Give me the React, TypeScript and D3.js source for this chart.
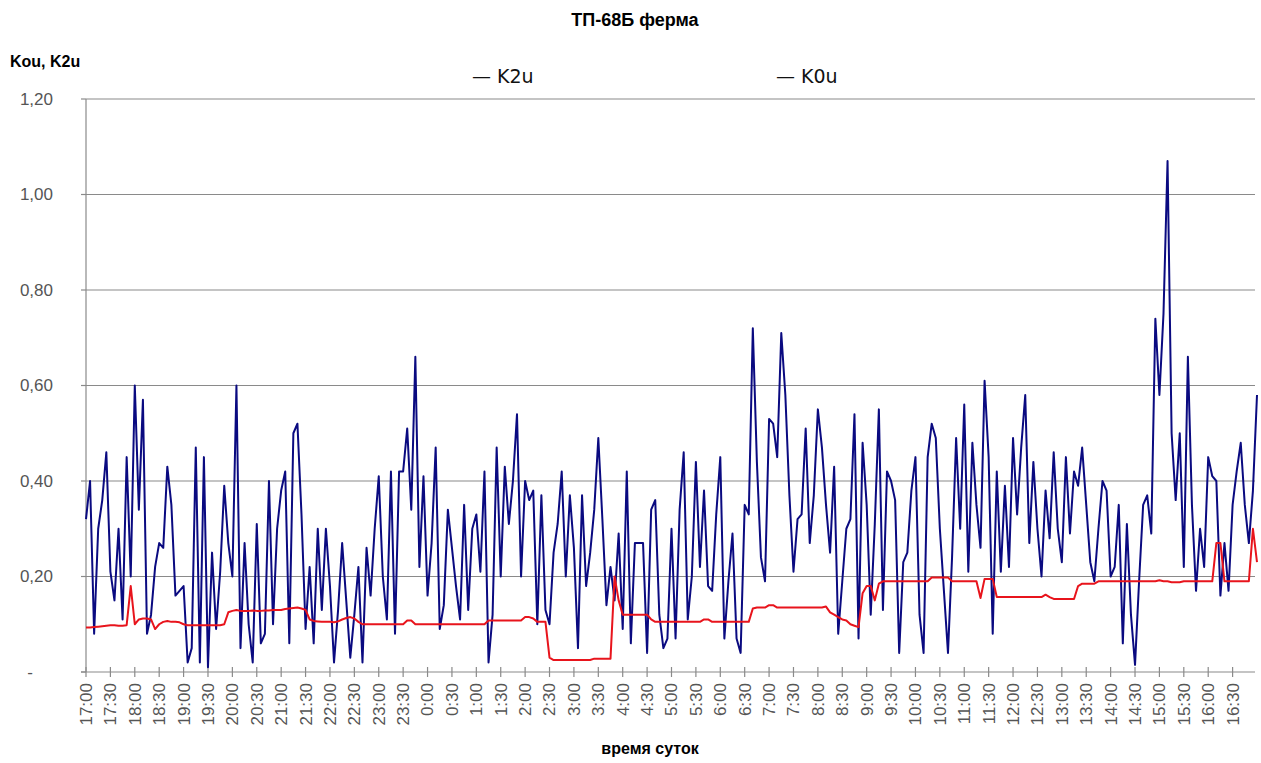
import React from "react";
import * as d3 from "d3";

const title = "ТП-68Б ферма";
const yAxisTitle = "Kou, K2u";
const xAxisTitle = "время суток";
const seriesNames = ["K2u", "K0u"];

const timeLabels = [
  "17:00","17:30","18:00","18:30","19:00","19:30","20:00","20:30","21:00","21:30","22:00","22:30",
  "23:00","23:30","0:00","0:30","1:00","1:30","2:00","2:30","3:00","3:30","4:00","4:30",
  "5:00","5:30","6:00","6:30","7:00","7:30","8:00","8:30","9:00","9:30","10:00","10:30",
  "11:00","11:30","12:00","12:30","13:00","13:30","14:00","14:30","15:00","15:30","16:00","16:30",
];

const yTicks = [0, 0.2, 0.4, 0.6, 0.8, 1.0, 1.2];

// K2u, 5-minute samples starting 17:00
const k2u = [
  0.32,0.40,0.08,0.30,0.36,0.46,0.21,0.15,0.30,0.11,0.45,0.20,
  0.60,0.34,0.57,0.08,0.12,0.22,0.27,0.26,0.43,0.35,0.16,0.17,
  0.18,0.02,0.05,0.47,0.02,0.45,0.01,0.25,0.09,0.21,0.39,0.27,
  0.20,0.60,0.05,0.27,0.10,0.02,0.31,0.06,0.08,0.40,0.10,0.30,
  0.38,0.42,0.06,0.50,0.52,0.33,0.09,0.22,0.06,0.30,0.13,0.30,
  0.18,0.02,0.13,0.27,0.15,0.03,0.12,0.22,0.02,0.26,0.16,0.30,
  0.41,0.20,0.11,0.42,0.08,0.42,0.42,0.51,0.34,0.66,0.22,0.41,
  0.16,0.27,0.47,0.09,0.14,0.34,0.26,0.18,0.11,0.35,0.13,0.30,
  0.33,0.21,0.42,0.02,0.12,0.47,0.20,0.43,0.31,0.40,0.54,0.20,
  0.40,0.36,0.38,0.10,0.37,0.13,0.10,0.25,0.31,0.42,0.20,0.37,
  0.26,0.05,0.37,0.18,0.25,0.34,0.49,0.32,0.14,0.22,0.15,0.29,
  0.09,0.42,0.06,0.27,0.27,0.27,0.04,0.34,0.36,0.12,0.05,0.07,
  0.30,0.07,0.34,0.46,0.11,0.20,0.44,0.22,0.38,0.18,0.17,0.33,
  0.45,0.07,0.19,0.29,0.07,0.04,0.35,0.33,0.72,0.44,0.24,0.19,
  0.53,0.52,0.45,0.71,0.58,0.37,0.21,0.32,0.33,0.51,0.27,0.37,
  0.55,0.47,0.35,0.25,0.43,0.08,0.19,0.30,0.32,0.54,0.07,0.48,
  0.35,0.12,0.31,0.55,0.13,0.42,0.40,0.36,0.04,0.23,0.25,0.38,
  0.45,0.12,0.04,0.45,0.52,0.49,0.30,0.17,0.04,0.24,0.49,0.30,
  0.56,0.21,0.48,0.35,0.26,0.61,0.45,0.08,0.42,0.21,0.39,0.22,
  0.49,0.33,0.47,0.58,0.27,0.44,0.30,0.20,0.38,0.28,0.46,0.30,
  0.23,0.45,0.29,0.42,0.39,0.47,0.35,0.23,0.19,0.30,0.40,0.38,
  0.20,0.22,0.35,0.06,0.31,0.12,0.015,0.19,0.35,0.37,0.29,0.74,
  0.58,0.75,1.07,0.50,0.36,0.50,0.22,0.66,0.35,0.17,0.30,0.22,
  0.45,0.41,0.40,0.16,0.27,0.17,0.35,0.42,0.48,0.35,0.27,0.38,
  0.58,
];

// K0u, 5-minute samples starting 17:00
const k0u = [
  0.093,0.093,0.094,0.095,0.096,0.097,0.098,0.098,0.097,0.097,0.098,0.18,
  0.10,0.11,0.112,0.112,0.11,0.09,0.10,0.105,0.107,0.105,0.105,0.104,
  0.100,0.098,0.098,0.098,0.098,0.098,0.098,0.098,0.098,0.098,0.10,0.125,
  0.128,0.13,0.128,0.128,0.128,0.129,0.128,0.128,0.129,0.129,0.13,0.13,
  0.13,0.132,0.133,0.134,0.135,0.133,0.13,0.11,0.107,0.106,0.105,0.105,
  0.105,0.104,0.106,0.11,0.113,0.115,0.112,0.105,0.10,0.10,0.10,0.10,
  0.10,0.10,0.10,0.10,0.10,0.10,0.10,0.108,0.108,0.10,0.10,0.10,
  0.10,0.10,0.10,0.10,0.10,0.10,0.10,0.10,0.10,0.10,0.10,0.10,
  0.10,0.10,0.10,0.108,0.108,0.108,0.108,0.108,0.108,0.108,0.108,0.108,
  0.115,0.115,0.112,0.105,0.105,0.105,0.03,0.025,0.025,0.025,0.025,0.025,
  0.025,0.025,0.025,0.025,0.025,0.028,0.028,0.028,0.028,0.028,0.20,0.15,
  0.12,0.12,0.12,0.12,0.12,0.12,0.12,0.11,0.105,0.105,0.105,0.105,
  0.105,0.105,0.105,0.105,0.105,0.105,0.105,0.105,0.11,0.11,0.105,0.105,
  0.105,0.105,0.105,0.105,0.105,0.105,0.105,0.105,0.133,0.135,0.135,0.135,
  0.14,0.14,0.135,0.135,0.135,0.135,0.135,0.135,0.135,0.135,0.135,0.135,
  0.135,0.135,0.137,0.125,0.12,0.115,0.11,0.108,0.10,0.097,0.094,0.165,
  0.18,0.18,0.15,0.185,0.19,0.19,0.19,0.19,0.19,0.19,0.19,0.19,
  0.19,0.19,0.19,0.19,0.198,0.198,0.198,0.198,0.198,0.19,0.19,0.19,
  0.19,0.19,0.19,0.19,0.155,0.195,0.195,0.195,0.157,0.157,0.157,0.157,
  0.157,0.157,0.157,0.157,0.157,0.157,0.157,0.157,0.162,0.157,0.153,0.153,
  0.153,0.153,0.153,0.153,0.18,0.185,0.185,0.185,0.185,0.19,0.19,0.19,
  0.19,0.19,0.19,0.19,0.19,0.19,0.19,0.19,0.19,0.19,0.19,0.19,
  0.192,0.19,0.19,0.188,0.188,0.188,0.19,0.19,0.19,0.19,0.19,0.19,
  0.19,0.19,0.27,0.27,0.19,0.19,0.19,0.19,0.19,0.19,0.19,0.30,
  0.23,
];

const W = 1261;
const H = 763;
const margin = { left: 86, right: 4, top: 99, bottom: 91 };

export default function App() {
  const x = d3.scaleLinear().domain([0, 288]).range([margin.left, W - margin.right]);
  const y = d3.scaleLinear().domain([0, 1.2]).range([H - margin.bottom, margin.top]);
  const line = d3
    .line<number>()
    .x((_, i) => x(i))
    .y((d) => y(d));
  const fmt = (v: number) => (v === 0 ? "-" : d3.format(".2f")(v).replace(".", ","));
  const font = "'Liberation Sans', Arial, sans-serif";
  const y0 = y(0);
  return (
    <svg width={W} height={H} style={{ position: "absolute", left: 0, top: 0, background: "#fff" }}>
      <text x={635} y={26} textAnchor="middle" fontFamily={font} fontWeight="bold" fontSize={18}>
        {title}
      </text>
      <text x={10} y={67} fontFamily={font} fontWeight="bold" fontSize={16}>
        {yAxisTitle}
      </text>
      {seriesNames.map((n, i) => (
        <text key={n} x={472 + i * 304} y={83} fontFamily="'DejaVu Sans', sans-serif" fontSize={19} fill="#111">
          {"— " + n}
        </text>
      ))}
      {yTicks.map((t) => (
        <g key={t}>
          {t > 0 && (
            <line x1={x(0)} x2={W - 6} y1={y(t)} y2={y(t)} stroke="#8a8a8a" strokeWidth={1.2} />
          )}
          <line x1={x(0) - 5} x2={x(0)} y1={y(t)} y2={y(t)} stroke="#8a8a8a" strokeWidth={1.2} />
          <text
            x={t === 0 ? 33 : 53}
            y={y(t)}
            dy="0.35em"
            textAnchor="end"
            fontFamily={font}
            fontSize={17}
            fill="#555"
          >
            {fmt(t)}
          </text>
        </g>
      ))}
      <line x1={x(0)} x2={x(0)} y1={y(1.2)} y2={y0} stroke="#8a8a8a" strokeWidth={1.2} />
      <line x1={x(0) - 5} x2={W - 6} y1={y0} y2={y0} stroke="#8a8a8a" strokeWidth={1.2} />
      {timeLabels.map((lab, i) => {
        const tx = x(i * 6);
        return (
          <g key={lab}>
            <line x1={tx} x2={tx} y1={y0 - 5} y2={y0 + 5} stroke="#8a8a8a" strokeWidth={1.2} />
            <text
              transform={`translate(${tx},${y0 + 11}) rotate(-90)`}
              dy="0.35em"
              textAnchor="end"
              fontFamily={font}
              fontSize={17}
              fill="#555"
            >
              {lab}
            </text>
          </g>
        );
      })}
      <path d={line(k2u) ?? ""} fill="none" stroke="#0a0a80" strokeWidth={2} strokeLinejoin="round" />
      <path d={line(k0u) ?? ""} fill="none" stroke="#e8141c" strokeWidth={2} strokeLinejoin="round" />
      <text x={650} y={754} textAnchor="middle" fontFamily={font} fontWeight="bold" fontSize={16}>
        {xAxisTitle}
      </text>
    </svg>
  );
}
